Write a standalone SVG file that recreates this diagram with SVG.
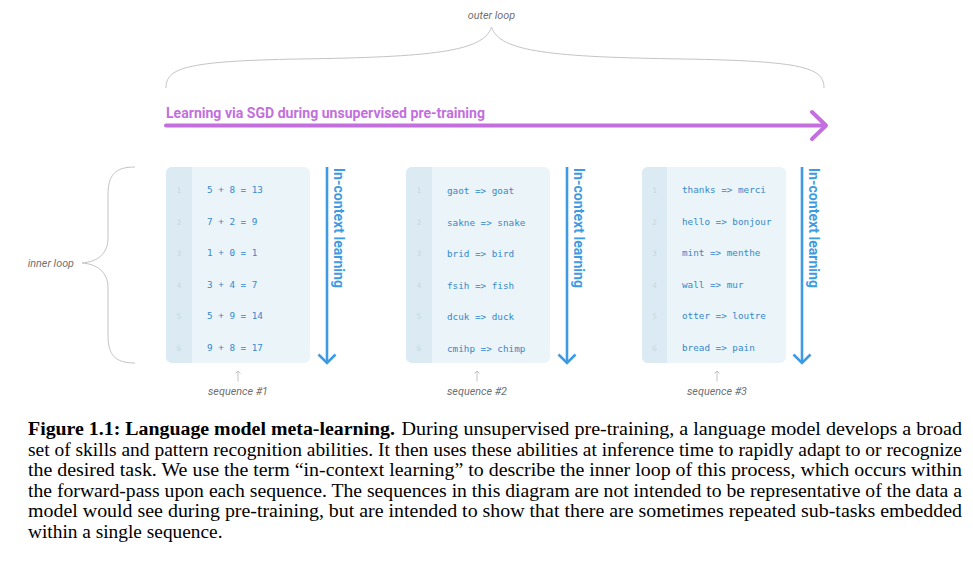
<svg xmlns="http://www.w3.org/2000/svg" width="973" height="563" viewBox="0 0 973 563">
  <style>
    .note { font-family: Roboto, "Liberation Sans", sans-serif; font-style: italic; font-size: 10.8px; fill: #6f6f6f; }
    .brace { fill: none; stroke: #c4c4c4; stroke-width: 1; }
    .panel { fill: #ebf4f8; }
    .gutter { fill: #dcebf3; }
    .num { font-family: "DejaVu Sans Mono", "Liberation Mono", monospace; font-size: 7.5px; fill: #c6d7df; text-anchor: middle; }
    .code { font-family: "DejaVu Sans Mono", "Liberation Mono", monospace; font-size: 9.3px; fill: #3689cc; }
    .icl { font-family: Roboto, "Liberation Sans", sans-serif; font-weight: bold; font-size: 14.8px; fill: #3d9be3; }
    .blue { fill: none; stroke: #3d9be3; stroke-width: 2.6; }
    .purple { fill: none; stroke: #c36fde; stroke-width: 4; stroke-linecap: round; stroke-linejoin: round; }
    .sgd { font-family: Roboto, "Liberation Sans", sans-serif; font-weight: bold; font-size: 14.5px; fill: #c36fde; }
    .up { fill: none; stroke: #b5b5b5; stroke-width: 0.8; }
    .seq { font-family: Roboto, "Liberation Sans", sans-serif; font-style: italic; font-size: 10.8px; fill: #6f6f6f; text-anchor: middle; }
    .cap { font-family: "Liberation Serif", "Times New Roman", serif; font-size: 18px; fill: #000; }
    .capb { font-family: "Liberation Serif", "Times New Roman", serif; font-size: 18px; font-weight: bold; fill: #000; }
  </style>

  <!-- outer loop annotation -->
  <g id="outer-loop">
    <text class="note" x="491.5" y="18.5" text-anchor="middle">outer loop</text>
    <path class="brace" d="M166,88 C166,68 185,61 300,59 C430,57 484,52 491.5,27 C499,52 553,57 683,59 C805,61 824,68 824,88"/>
  </g>

  <!-- SGD label -->
  <g id="sgd-label">
    <text class="sgd" x="166" y="117.5" textLength="319" lengthAdjust="spacingAndGlyphs">Learning via SGD during unsupervised pre-training</text>
  </g>

  <!-- inner loop annotation -->
  <g id="inner-loop">
    <text class="note" x="74" y="266.5" text-anchor="end">inner loop</text>
    <path class="brace" d="M135,167 C115,167 108,175 108,195 L108,238 C108,255 96,262 82,263 C96,264 108,271 108,288 L108,335 C108,355 115,363 135,363"/>
  </g>

  <!-- sequence 1 -->
  <g id="sequence-1">
    <rect class="panel" x="166" y="167" width="144" height="196" rx="6"/>
    <path class="gutter" d="M172,167 H192 V363 H172 A6,6 0 0 1 166,357 V173 A6,6 0 0 1 172,167 Z"/>
    <text class="num" x="179" y="193">1</text>
    <text class="num" x="179" y="224.5">2</text>
    <text class="num" x="179" y="256">3</text>
    <text class="num" x="179" y="287.5">4</text>
    <text class="num" x="179" y="319">5</text>
    <text class="num" x="179" y="350.5">6</text>
    <text class="code" x="207" y="193.4">5 + 8 = 13</text>
    <text class="code" x="207" y="224.9">7 + 2 = 9</text>
    <text class="code" x="207" y="256.4">1 + 0 = 1</text>
    <text class="code" x="207" y="287.9">3 + 4 = 7</text>
    <text class="code" x="207" y="319.4">5 + 9 = 14</text>
    <text class="code" x="207" y="350.9">9 + 8 = 17</text>
    <text class="icl" transform="translate(334,168) rotate(90)" x="0" y="0" textLength="120" lengthAdjust="spacingAndGlyphs">In-context learning</text>
    <text class="seq" x="238" y="395">sequence #1</text>
  </g>

  <!-- sequence 2 -->
  <g id="sequence-2">
    <rect class="panel" x="406" y="167" width="144" height="196" rx="6"/>
    <path class="gutter" d="M412,167 H432 V363 H412 A6,6 0 0 1 406,357 V173 A6,6 0 0 1 412,167 Z"/>
    <text class="num" x="419" y="193">1</text>
    <text class="num" x="419" y="224.5">2</text>
    <text class="num" x="419" y="256">3</text>
    <text class="num" x="419" y="287.5">4</text>
    <text class="num" x="419" y="319">5</text>
    <text class="num" x="419" y="350.5">6</text>
    <text class="code" x="447" y="194">gaot =&gt; goat</text>
    <text class="code" x="447" y="225.5">sakne =&gt; snake</text>
    <text class="code" x="447" y="257">brid =&gt; bird</text>
    <text class="code" x="447" y="288.5">fsih =&gt; fish</text>
    <text class="code" x="447" y="320">dcuk =&gt; duck</text>
    <text class="code" x="447" y="351.5">cmihp =&gt; chimp</text>
    <text class="icl" transform="translate(574,168) rotate(90)" x="0" y="0" textLength="120" lengthAdjust="spacingAndGlyphs">In-context learning</text>
    <text class="seq" x="477" y="395">sequence #2</text>
  </g>

  <!-- sequence 3 -->
  <g id="sequence-3">
    <rect class="panel" x="642" y="167" width="144" height="196" rx="6"/>
    <path class="gutter" d="M648,167 H667 V363 H648 A6,6 0 0 1 642,357 V173 A6,6 0 0 1 648,167 Z"/>
    <text class="num" x="654.5" y="193">1</text>
    <text class="num" x="654.5" y="224.5">2</text>
    <text class="num" x="654.5" y="256">3</text>
    <text class="num" x="654.5" y="287.5">4</text>
    <text class="num" x="654.5" y="319">5</text>
    <text class="num" x="654.5" y="350.5">6</text>
    <text class="code" x="682" y="193.4">thanks =&gt; merci</text>
    <text class="code" x="682" y="224.9">hello =&gt; bonjour</text>
    <text class="code" x="682" y="256.4">mint =&gt; menthe</text>
    <text class="code" x="682" y="287.9">wall =&gt; mur</text>
    <text class="code" x="682" y="319.4">otter =&gt; loutre</text>
    <text class="code" x="682" y="350.9">bread =&gt; pain</text>
    <text class="icl" transform="translate(809,168) rotate(90)" x="0" y="0" textLength="120" lengthAdjust="spacingAndGlyphs">In-context learning</text>
    <text class="seq" x="717" y="395">sequence #3</text>
  </g>

  <!-- connectors -->
  <g id="connectors">
    <path class="purple" d="M166,125.5 H825"/>
    <path class="purple" d="M812,112 L826,125.5 L812,139"/>
    <path class="blue" d="M327,167 V362"/>
    <path class="blue" d="M318.5,354.5 L327,363 L335.5,354.5"/>
    <path class="blue" d="M567,167 V362"/>
    <path class="blue" d="M558.5,354.5 L567,363 L575.5,354.5"/>
    <path class="blue" d="M802,167 V362"/>
    <path class="blue" d="M793.5,354.5 L802,363 L810.5,354.5"/>
    <path class="up" d="M238,381.5 V371 M235.5,373.5 L238,371 L240.5,373.5"/>
    <path class="up" d="M477,381.5 V371 M474.5,373.5 L477,371 L479.5,373.5"/>
    <path class="up" d="M717,381.5 V371 M714.5,373.5 L717,371 L719.5,373.5"/>
  </g>

  <!-- caption -->
  <g id="caption">
    <text class="capb" x="28" y="435" textLength="367" lengthAdjust="spacingAndGlyphs">Figure 1.1: Language model meta-learning.</text>
    <text class="cap" x="401.5" y="435" textLength="560.5" lengthAdjust="spacingAndGlyphs">During unsupervised pre-training, a language model develops a broad</text>
    <text class="cap" x="28" y="455.5" textLength="934" lengthAdjust="spacingAndGlyphs">set of skills and pattern recognition abilities. It then uses these abilities at inference time to rapidly adapt to or recognize</text>
    <text class="cap" x="28" y="476" textLength="934" lengthAdjust="spacingAndGlyphs">the desired task. We use the term “in-context learning” to describe the inner loop of this process, which occurs within</text>
    <text class="cap" x="28" y="496.5" textLength="934" lengthAdjust="spacingAndGlyphs">the forward-pass upon each sequence. The sequences in this diagram are not intended to be representative of the data a</text>
    <text class="cap" x="28" y="517" textLength="934" lengthAdjust="spacingAndGlyphs">model would see during pre-training, but are intended to show that there are sometimes repeated sub-tasks embedded</text>
    <text class="cap" x="28" y="537.5" textLength="194.5" lengthAdjust="spacingAndGlyphs">within a single sequence.</text>
  </g>
</svg>
